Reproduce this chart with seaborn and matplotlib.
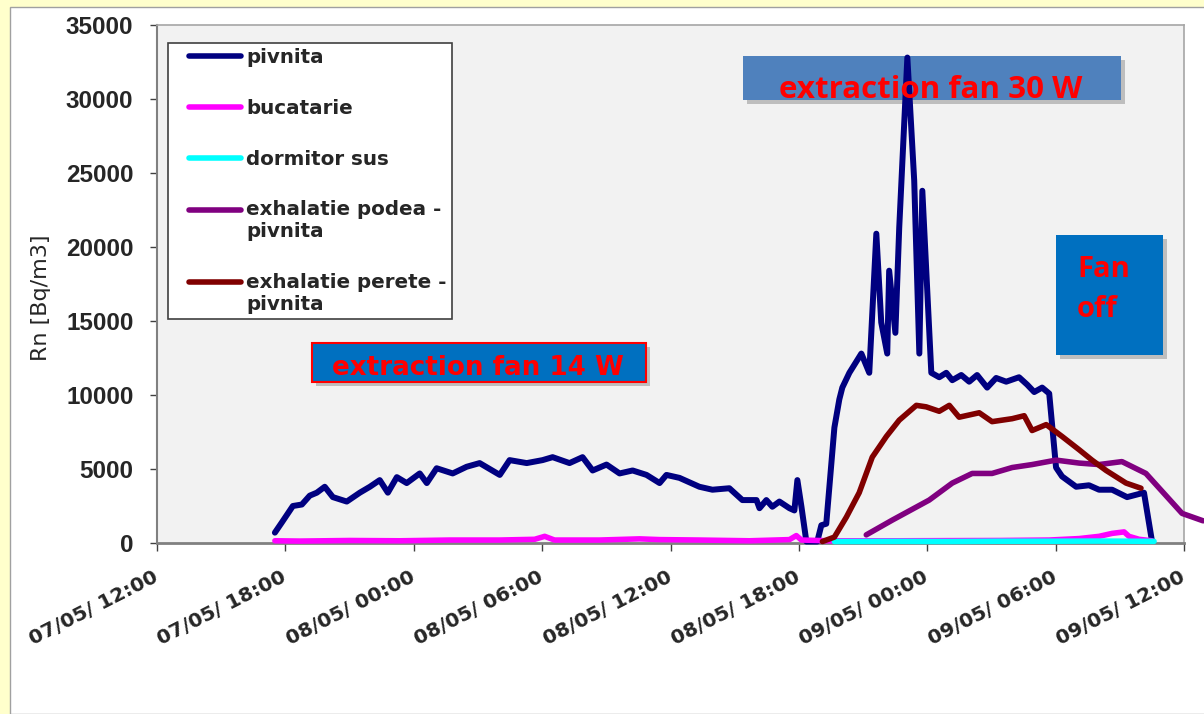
import matplotlib
matplotlib.use("Agg")
import matplotlib.pyplot as plt
import matplotlib.dates as mdates
from matplotlib.patches import Rectangle
from matplotlib.legend_handler import HandlerLine2D
import pandas as pd
import seaborn as sns

START = pd.Timestamp("2014-05-07 12:00")

# Radon concentration [Bq/m3]; time given as hours after 07/05 12:00
pivnita_h = [5.51, 5.84, 6.35, 6.77, 7.14, 7.47, 7.84, 8.22, 8.87, 9.48, 9.95, 10.41,
             10.79, 11.21, 11.67, 12.28, 12.61, 13.07, 13.82, 14.47, 15.08, 16.02, 16.48,
             17.28, 18.02, 18.49, 19.28, 19.89, 20.36, 21.01, 21.62, 22.23, 22.88, 23.49,
             23.81, 24.42, 25.35, 25.96, 26.75, 27.36, 28.02, 28.16, 28.48, 28.76, 29.09,
             29.56, 29.79, 29.93, 30.12, 30.35, 30.86, 31.05, 31.28, 31.66, 31.89, 32.03,
             32.36, 32.92, 33.29, 33.62, 33.85, 34.13, 34.22, 34.51, 34.69, 35.07, 35.39,
             35.63, 35.77, 36.19, 36.56, 36.89, 37.17, 37.59, 37.96, 38.33, 38.80, 39.22,
             39.69, 40.29, 40.67, 41.00, 41.37, 41.70, 42.02, 42.30, 42.96, 43.56, 44.03,
             44.64, 45.34, 46.13, 46.50]
pivnita_v = [700, 1400, 2500, 2600, 3200, 3400, 3800, 3100, 2800, 3400, 3800, 4250,
             3400, 4450, 4050, 4700, 4050, 5050, 4700, 5150, 5400, 4600, 5600,
             5400, 5600, 5800, 5400, 5800, 4900, 5300, 4700, 4900, 4600, 4050,
             4600, 4400, 3800, 3600, 3700, 2900, 2900, 2350, 2900, 2450, 2800,
             2350, 2200, 4250, 2450, 100, 100, 1200, 1300, 7800, 9700, 10500,
             11500, 12800, 11500, 20900, 14900, 12800, 18400, 14200, 21300, 32800, 24500,
             12800, 23800, 11500, 11200, 11500, 11000, 11350, 10900, 11350, 10500, 11150,
             10900, 11200, 10700, 10200, 10500, 10100, 5100, 4500, 3800, 3900, 3600,
             3600, 3100, 3400, 150]

bucatarie_h = [5.51, 6.68, 9.01, 11.35, 13.68, 16.02, 17.65, 18.12, 18.58, 20.68, 22.55,
               23.49, 25.35, 27.69, 29.56, 29.88, 30.12, 31.42, 34.69, 39.36, 41.70,
               43.10, 44.03, 44.64, 45.20, 45.43, 45.90, 46.50]
bucatarie_v = [150, 130, 170, 150, 200, 200, 250, 450, 200, 200, 280,
               230, 200, 150, 230, 500, 200, 150, 150, 170, 200,
               300, 450, 650, 750, 450, 250, 150]

dormitor_h = [31.66, 34.69, 37.03, 39.36, 41.70, 44.03, 45.43, 46.60]
dormitor_v = [100, 110, 100, 120, 120, 130, 120, 110]

podea_h = [33.15, 34.37, 36.09, 37.17, 38.10, 39.03, 39.97, 40.90, 42.02, 43.10,
           44.03, 45.10, 46.22, 47.91, 48.89]
podea_v = [550, 1550, 2900, 4050, 4700, 4700, 5100, 5300, 5600, 5400,
           5300, 5500, 4700, 2000, 1500]

perete_h = [31.10, 31.66, 32.22, 32.82, 33.43, 34.09, 34.69, 35.49, 35.95, 36.56,
            37.03, 37.49, 38.43, 39.03, 39.97, 40.53, 40.90, 41.56, 42.30, 43.10,
            43.70, 44.36, 45.29, 45.99]
perete_v = [100, 400, 1750, 3400, 5800, 7200, 8300, 9300, 9200, 8900,
            9300, 8500, 8800, 8200, 8400, 8600, 7600, 8000, 7200, 6300,
            5600, 4900, 4050, 3700]

series = [
    ("pivnita", pivnita_h, pivnita_v, "#000080", 4.3),
    ("bucatarie", bucatarie_h, bucatarie_v, "#ff00ff", 4.0),
    ("dormitor sus", dormitor_h, dormitor_v, "#00ffff", 4.0),
    ("exhalatie podea -\npivnita", podea_h, podea_v, "#800080", 4.0),
    ("exhalatie perete -\npivnita", perete_h, perete_v, "#800000", 4.0),
]

y_ticks = [0, 5000, 10000, 15000, 20000, 25000, 30000, 35000]

sns.set_style("white")
plt.rcParams["font.family"] = ["Liberation Sans", "DejaVu Sans"]

fig = plt.figure(figsize=(12.04, 7.14), dpi=100)
fig.patch.set_facecolor("#ffffcc")
fig.patches.append(Rectangle((10 / 1204, 0), 1.0, 1 - 7 / 714, transform=fig.transFigure,
                             facecolor="white", edgecolor="#a0a0a0", lw=1.0, zorder=-5))

ax = fig.add_axes([157 / 1204, 1 - 543 / 714, 1027 / 1204, 518 / 714])
ax.set_zorder(1)
ax.set_facecolor("#f2f2f2")

for name, hrs, vals, color, lw in series:
    df = pd.DataFrame({"t": START + pd.to_timedelta(hrs, unit="h"), "v": vals})
    sns.lineplot(data=df, x="t", y="v", ax=ax, color=color, lw=lw, label=name,
                 estimator=None, sort=False, clip_on=False,
                 solid_capstyle="round", solid_joinstyle="round", zorder=3)

ax.set_xlim(START, START + pd.Timedelta(hours=48))
ax.set_ylim(0, 35000)
ax.set_yticks(y_ticks)
ax.xaxis.set_major_locator(mdates.HourLocator(byhour=[0, 6, 12, 18]))
ax.xaxis.set_major_formatter(mdates.DateFormatter("%d/%m/ %H:%M"))
ax.set_xlabel("")
ax.set_ylabel("")

ax.tick_params(axis="y", direction="out", length=5, width=1, color="#404040",
               labelsize=17.5, pad=12, left=True)
ax.tick_params(axis="x", direction="out", length=6, width=1, color="#404040",
               labelsize=14.5, pad=18, bottom=True)
for lab in ax.get_yticklabels():
    lab.set_fontweight("bold")
for lab in ax.get_xticklabels():
    lab.set_fontweight("bold")
    lab.set_family("DejaVu Sans")
    lab.set_rotation(27)
    lab.set_ha("right")
    lab.set_va("center")
    lab.set_rotation_mode("anchor")

for side in ("top", "right"):
    ax.spines[side].set_color("#a6a6a6")
    ax.spines[side].set_linewidth(1.2)
ax.spines["left"].set_color("#808080")
ax.spines["left"].set_linewidth(1.5)
ax.spines["bottom"].set_color("#808080")
ax.spines["bottom"].set_linewidth(2.0)

fig.text(41 / 1204, 1 - 298 / 714, "Rn [Bq/m3]", rotation=90, ha="center", va="center",
         fontsize=16, family="DejaVu Sans")


class KeyLine(HandlerLine2D):
    """Legend key inset from the frame; for two-line labels it sits on the first line."""

    inset = 11.5

    def create_artists(self, legend, orig_handle, xdescent, ydescent, width, height,
                       fontsize, trans):
        lift = 0.6 * fontsize if "\n" in orig_handle.get_label() else 0.0
        return super().create_artists(legend, orig_handle, xdescent - self.inset,
                                      ydescent - 2 * lift, width - self.inset, height,
                                      fontsize, trans)


handles, labels = ax.get_legend_handles_labels()
leg = ax.legend(handles, labels, loc="upper left", bbox_to_anchor=(0.0107, 0.965),
                borderaxespad=0, frameon=True, fancybox=False, framealpha=1,
                edgecolor="#404040", handlelength=3.45, handletextpad=0.25,
                labelspacing=1.6, borderpad=0.25,
                handler_map={h: KeyLine() for h in handles},
                prop={"weight": "bold", "size": 14.3, "family": "DejaVu Sans"})
leg.get_frame().set_linewidth(1.2)
for line in leg.get_lines():
    line.set_linewidth(4.0)


def note_box(x0, y0, x1, y1, face, edge=None):
    # drop shadow first, then the box itself (axes fraction coordinates)
    dx, dy = 4 / 1027, 4 / 518
    ax.add_patch(Rectangle((x0 + dx, y0 - dy), x1 - x0, y1 - y0, transform=ax.transAxes,
                           facecolor="#7f7f7f", alpha=0.45, lw=0, zorder=1.5))
    ax.add_patch(Rectangle((x0, y0), x1 - x0, y1 - y0, transform=ax.transAxes,
                           facecolor=face, edgecolor=edge if edge else face,
                           lw=1.5 if edge else 0, zorder=1.6))


note_box(0.5706, 0.8552, 0.9387, 0.9402, "#4f81bd")
ax.text(0.7537, 0.859, "extraction fan 30 W", transform=ax.transAxes, ha="center",
        va="baseline", color="#ff0000", fontsize=22.5, fontweight="bold",
        family=["Open Sans", "DejaVu Sans"], zorder=6)

note_box(0.1509, 0.3108, 0.4761, 0.3861, "#0070c0", edge="#ff0000")
ax.text(0.3126, 0.3243, "extraction fan 14 W", transform=ax.transAxes, ha="center",
        va="baseline", color="#ff0000", fontsize=18.8, fontweight="bold",
        family="DejaVu Sans", zorder=6)

note_box(0.8754, 0.3629, 0.9796, 0.5946, "#0070c0")
for word, yb in (("Fan", 0.5135), ("off", 0.4363)):
    ax.text(0.8958, yb, word, transform=ax.transAxes, ha="left", va="baseline",
            color="#ff0000", fontsize=21, fontweight="bold",
            family=["Open Sans", "DejaVu Sans"], zorder=6)

fig.savefig("out.png", dpi=100, facecolor=fig.get_facecolor())
